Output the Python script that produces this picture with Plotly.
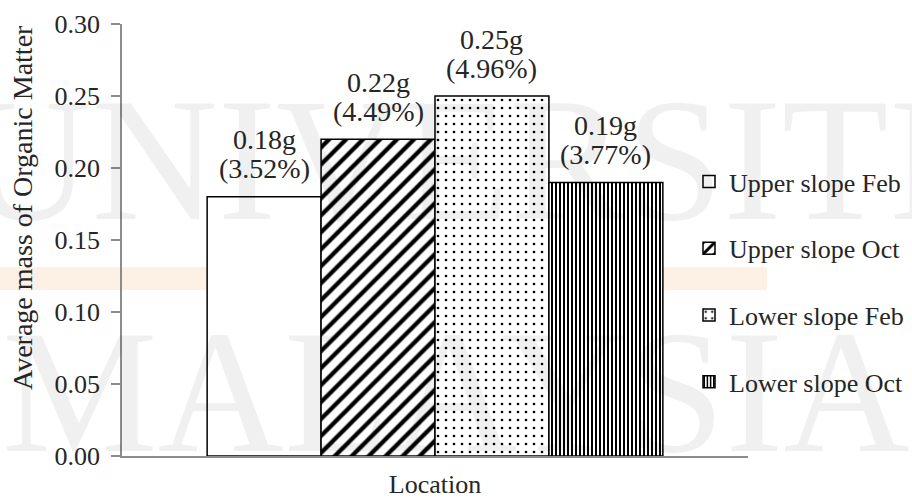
import plotly.graph_objects as go

# Chart data
categories = ["Location"]
series_names = ["Upper slope Feb", "Upper slope Oct", "Lower slope Feb", "Lower slope Oct"]
mass_g = [0.18, 0.22, 0.25, 0.19]
percent_om = [3.52, 4.49, 4.96, 3.77]
y_tick_values = [0.00, 0.05, 0.10, 0.15, 0.20, 0.25, 0.30]
y_title = "Average mass of Organic Matter"

FONT = "Liberation Serif, Times New Roman, serif"
TXT = "#262626"
W, H = 912, 499
M_L, M_R, M_T, M_B = 122, 164, 24, 43
BARGAP = 0.272
PLOT_W = W - M_L - M_R
PLOT_H = H - M_T - M_B

# Black-and-white fills for each series
patterns = [
    dict(shape="", bgcolor="white"),
    dict(shape="/", size=12, solidity=0.36, fgcolor="black", bgcolor="white", fillmode="replace"),
    dict(shape=".", size=8, solidity=0.09, fgcolor="black", bgcolor="white", fillmode="replace"),
    dict(shape="|", size=4, solidity=0.5, fgcolor="black", bgcolor="white", fillmode="replace"),
]

fig = go.Figure()
for i, name in enumerate(series_names):
    fig.add_trace(go.Bar(
        name=name,
        x=categories,
        y=[mass_g[i]],
        legendgroup=name,
        marker=dict(color="white", pattern=patterns[i], line=dict(color="black", width=1.5)),
        hoverinfo="skip",
    ))

# Two-line value labels above each bar (mass, then percentage)
bar_px = PLOT_W * (1 - BARGAP) / len(series_names)
annotations = []
for i in range(len(series_names)):
    xs = (i - (len(series_names) - 1) / 2) * bar_px
    for line, shift in ((f"{mass_g[i]:.2f}g", 57), (f"({percent_om[i]:.2f}%)", 28)):
        annotations.append(dict(
            x=categories[0], y=mass_g[i], xref="x", yref="y",
            xshift=xs, yshift=shift, yanchor="middle", xanchor="center",
            text=line, showarrow=False,
            font=dict(family=FONT, size=28, color=TXT),
        ))

# Vertical axis title
annotations.append(dict(
    x=(22 - M_L) / PLOT_W, y=(456 - 208) / PLOT_H, xref="paper", yref="paper",
    xanchor="center", yanchor="middle", textangle=-90,
    text=y_title, showarrow=False,
    font=dict(family=FONT, size=28, color=TXT),
))

# Faint background lettering
for word, yc in (("UNIVERSITI", (456 - 160) / PLOT_H), ("MALAYSIA", (456 - 392) / PLOT_H)):
    annotations.append(dict(
        x=(W / 2 - M_L) / PLOT_W, y=yc, xref="paper", yref="paper",
        xanchor="center", yanchor="middle", text=word, showarrow=False,
        font=dict(family=FONT, size=175, color="rgba(0,0,0,0.06)"),
    ))

shapes = [dict(
    type="rect", xref="paper", yref="paper", layer="below",
    x0=-M_L / PLOT_W, x1=(767 - M_L) / PLOT_W,
    y0=(456 - 290) / PLOT_H, y1=(456 - 267) / PLOT_H,
    fillcolor="#fdf0e4", line=dict(width=0),
)]

fig.update_layout(
    width=W, height=H,
    margin=dict(l=M_L, r=M_R, t=M_T, b=M_B, pad=0, autoexpand=False),
    paper_bgcolor="white", plot_bgcolor="rgba(0,0,0,0)",
    barmode="group", bargap=BARGAP, bargroupgap=0,
    font=dict(family=FONT, size=26, color=TXT),
    showlegend=True,
    legend=dict(
        x=(689 - M_L) / PLOT_W, xanchor="left", y=(456 - 158) / PLOT_H, yanchor="top",
        bgcolor="rgba(0,0,0,0)", font=dict(family=FONT, size=26, color=TXT),
        tracegroupgap=30, itemwidth=30, traceorder="grouped",
    ),
    annotations=annotations,
    shapes=shapes,
    xaxis=dict(
        showline=True, linecolor="#8c8c8c", linewidth=1.5, ticks="",
        tickfont=dict(family=FONT, size=26, color=TXT),
        ticklabelstandoff=4,
        showgrid=False, zeroline=False, fixedrange=True,
    ),
    yaxis=dict(
        range=[0, 0.30], tickvals=y_tick_values, tickformat=".2f",
        showline=True, linecolor="#8c8c8c", linewidth=1.5,
        ticks="outside", ticklen=9, tickcolor="#8c8c8c", tickwidth=1.5,
        tickfont=dict(family=FONT, size=26, color=TXT),
        ticklabelstandoff=6,
        showgrid=False, zeroline=False,
    ),
)

fig.write_html("out.html")
